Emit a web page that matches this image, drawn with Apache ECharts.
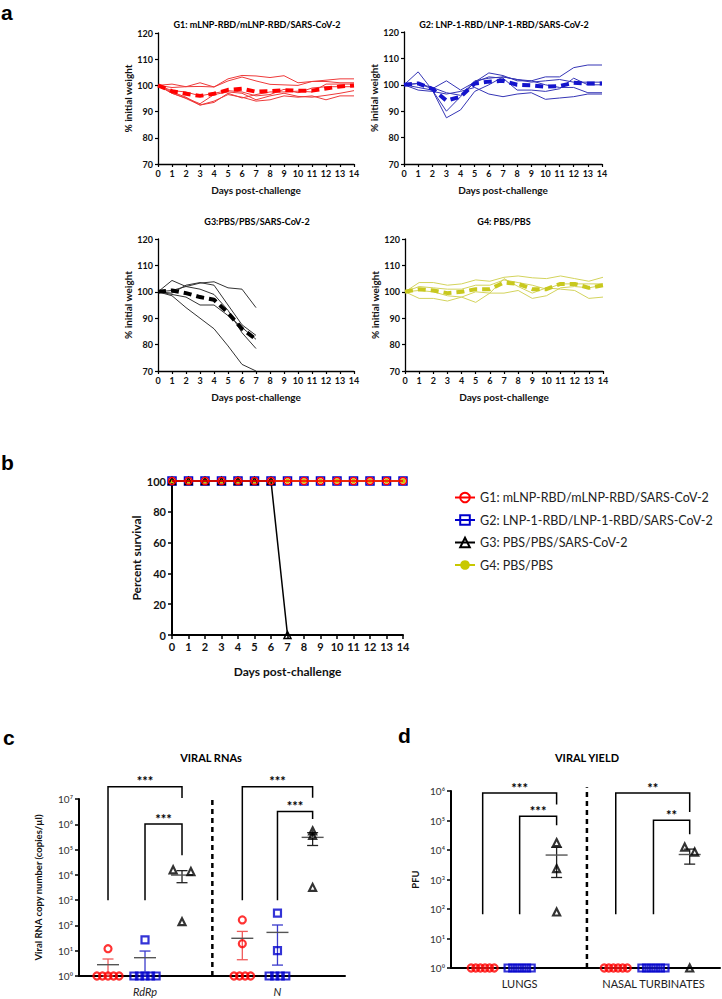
<!DOCTYPE html>
<html><head><meta charset="utf-8">
<script src="https://cdn.jsdelivr.net/npm/echarts@6/dist/echarts.min.js"></script>
<style>html,body{margin:0;padding:0;background:#fff}#c{width:722px;height:999px}</style>
</head><body><div id="c"></div>
<script>
// ---------------- DATA ----------------
const days = [0,1,2,3,4,5,6,7,8,9,10,11,12,13,14];
const g1Weights = [
  [100,99.2,99.5,101,99.4,102.5,103.8,103.6,103,103.7,101,101.5,102,102.5,102.5],
  [100,100.5,99.5,99.6,99.4,101.7,103.2,101.7,100.4,100.2,100,101.5,101.5,101,101],
  [100,97.5,95.5,92.5,93.5,97,95.2,96.5,97.5,97.5,97.8,97.5,100.5,100.5,100.5],
  [100,97,95,92.5,94,96.5,95.5,94,94.5,96,95.5,96,94.5,96,96],
  [100,97,95.2,93,96.5,97.5,97,94.5,96,97,95.8,95.5,96.2,97,98],
  [100,98,97.5,96,97,98,97.5,96,96.5,98.5,97.2,99,99.5,99.5,99.5]
];
const g1Mean = [100,97.8,96.8,96,96.8,98.3,98.7,97.6,97.8,98.2,98,98,98.8,99.6,100];
const g2Weights = [
  [100,104.9,98,90,95.5,101,103,102.5,98,98,97.5,98.5,102.5,100,100],
  [100,99,98,87.5,90.5,97.5,100,103,102,101.5,100,99,99,97,97],
  [100,100.5,98.5,101.5,98,101,104.5,103.5,101.5,101.5,103,103,106.5,107.5,107.5],
  [100,98,97.5,96.5,97.5,99,96.5,95.5,96.5,97,94.5,95,95.5,96.5,96.5],
  [100,100.5,99,97,96,101.5,102.5,103,102,101,101.5,102,101,101,101]
];
const g2Mean = [100,100.5,98.5,94,95.5,100.5,101.2,101.5,100,99.8,99.3,99.5,100.8,100.5,100.5];
const g3Weights = [
  [100,104.3,102,101,99,93,84.5,78.5],
  [100,100.5,102,103.3,103.8,101.5,101,94],
  [100,99.5,102.5,103.5,102.5,95,87.5,83.5],
  [100,99,98,95,95,91,86.5,82],
  [100,98.5,94,90,86,79.5,72.5,70]
];
const g3Mean = [100,100.5,99.5,98,97,92,86,82];
const g4Weights = [
  [100,103.5,103.5,102.5,103,104.5,104,105.5,106,105.3,105,106,105,104,105.5],
  [100,102,101.5,101,101,102.5,102.5,104.5,103.5,102.5,101,103,103,103,103],
  [100,100.5,100,98.5,98,100,99.5,105,102,99.5,101.5,101,100.5,97.5,98],
  [100,97.5,97.5,96.5,98,96,99.5,99.5,100.5,97.5,98.5,101.5,102,101.5,102.5]
];
const g4Mean = [100,101,100.5,99.5,100,101,101,103.5,103,101,101,103,103,101.5,102.5];
const weightTicks = [70,80,90,100,110,120];

const groupNames = ['G1: mLNP-RBD/mLNP-RBD/SARS-CoV-2','G2: LNP-1-RBD/LNP-1-RBD/SARS-CoV-2','G3: PBS/PBS/SARS-CoV-2','G4: PBS/PBS'];
const panelATitles = ['G1: mLNP-RBD/mLNP-RBD/SARS-CoV-2','G2: LNP-1-RBD/LNP-1-RBD/SARS-CoV-2','G3:PBS/PBS/SARS-CoV-2','G4: PBS/PBS'];

const survG1 = [100,100,100,100,100,100,100,100,100,100,100,100,100,100,100];
const survG2 = [100,100,100,100,100,100,100,100,100,100,100,100,100,100,100];
const survG3 = [100,100,100,100,100,100,100,0];
const survG4 = [100,100,100,100,100,100,100,100,100,100,100,100,100,100,100];

// panel c: viral RNA copies/µl
const rnaCategories = ['RdRp','N'];
const rdrpG1 = [12,1,1,1,1,1];
const rdrpG2 = [27,1,1,1,1,1];
const rdrpG3 = [15800,13500,141];
const nG1 = [165,19,1,1,1,1];
const nG2 = [305,10,1,1,1,1];
const nG3 = [550000,360000,3200];
const rnaMean = [2.8,5.3,9800,31,53,304000];
const rnaSemLow = [1,1,4900,4.4,2.7,145000];
const rnaSemHigh = [4.7,9.7,14700,58,104,465000];
const rnaStars = ['***','***','***','***'];

// panel d: PFU
const yieldCategories = ['LUNGS','NASAL TURBINATES'];
const lungsG1 = [1,1,1,1,1,1];
const lungsG2 = [1,1,1,1,1,1];
const lungsG3 = [17800,2340,79];
const nasalG1 = [1,1,1,1,1,1];
const nasalG2 = [1,1,1,1,1,1];
const nasalG3 = [12600,8500,1];
const yieldMean = [1,1,6740,1,1,7030];
const yieldSemLow = [1,1,1170,1,1,3320];
const yieldSemHigh = [1,1,12300,1,1,10740];
const yieldStars = ['***','***','**','**'];

// ---------------- LAYOUT ----------------
const FB = 'Lato, "Open Sans", sans-serif';
const cPos = [1,2,3,4.63,5.58,6.53];
const dPos = [1,2,3,4.6,5.62,6.6];
const cBrackets = [
  {from:0,to:2,base:3,top:7.48,drop:7.04},
  {from:1,to:2,base:3,top:6.01,drop:4.78},
  {from:3,to:5,base:3,top:7.48,drop:7.05},
  {from:4,to:5,base:3,top:6.51,drop:6.21}
];
const dBrackets = [
  {from:0,to:2,base:1.82,top:5.93,drop:5.54},
  {from:1,to:2,base:1.82,top:5.14,drop:4.84},
  {from:3,to:5,base:1.82,top:5.93,drop:5.29},
  {from:4,to:5,base:1.82,top:5.01,drop:4.53}
];
const groupColors = ['#ff0000','#0000cc','#000000'];
const barColors = ['#f05a5a','#3a3acc','#222222'];
const symbols = ['circle','rect','triangle'];

const sup = ['⁰','¹','²','³','⁴','⁵','⁶','⁷','⁸'];
const logFmt = v => '10' + sup[Math.round(Math.log10(v))];

function swarm(values, center, idSp, pairSp, thresh) {
  const items = values.map(v => ({v, l: Math.log10(v)})).sort((a,b)=>b.l-a.l);
  const clusters = [];
  items.forEach(it => {
    const c = clusters.find(c => Math.abs(c[0].l - it.l) < thresh);
    if (c) c.push(it); else clusters.push([it]);
  });
  const out = [];
  clusters.forEach(c => {
    const n = c.length;
    const ident = c.every(x => x.v === c[0].v);
    const s = ident ? idSp : pairSp;
    c.forEach((it,k) => out.push([center + (k-(n-1)/2)*s, it.v]));
  });
  return out;
}

const grids = [
  {left:158, top:33, width:196, height:131},
  {left:404, top:32, width:198, height:132},
  {left:158, top:239, width:196, height:132},
  {left:405, top:239, width:198, height:132},
  {left:172, top:481, width:231, height:154},
  {left:79, top:799, width:266, height:177},
  {left:451, top:791, width:269, height:177}
].map(g => Object.assign({outerBoundsMode:'none', containLabel:false}, g));

const xAxes = [], yAxes = [];
for (let i=0;i<4;i++) {
  xAxes.push({gridIndex:i, type:'value', min:0, max:14, interval:1,
    axisLine:{onZero:false, lineStyle:{color:'#000', width:1.3}},
    axisTick:{length:3, lineStyle:{color:'#000', width:1.2}},
    axisLabel:{margin:5, fontSize:9, fontWeight:'bold', fontFamily:FB, color:'#111'},
    splitLine:{show:false},
    name:'Days post-challenge', nameLocation:'middle', nameGap:21,
    nameTextStyle:{fontSize:10, fontWeight:'bold', fontFamily:FB, color:'#111'}});
  yAxes.push({gridIndex:i, type:'value', min:weightTicks[0], max:weightTicks[weightTicks.length-1], interval:10,
    axisLine:{show:true, onZero:false, lineStyle:{color:'#000', width:1.3}},
    axisTick:{show:true, length:3, lineStyle:{color:'#000', width:1.2}},
    axisLabel:{margin:5, fontSize:9, fontWeight:'bold', fontFamily:FB, color:'#111'},
    splitLine:{show:false},
    name:'% initial weight', nameLocation:'middle', nameGap:24,
    nameTextStyle:{fontSize:10, fontWeight:'bold', fontFamily:FB, color:'#111'}});
}
// panel b
xAxes.push({gridIndex:4, type:'value', min:0, max:14, interval:1,
  axisLine:{onZero:false, lineStyle:{color:'#000', width:2}},
  axisTick:{length:4, lineStyle:{color:'#000', width:1.5}},
  axisLabel:{margin:6, fontSize:11, fontWeight:'bold', fontFamily:FB, color:'#111'},
  splitLine:{show:false},
  name:'Days post-challenge', nameLocation:'middle', nameGap:30,
  nameTextStyle:{fontSize:12, fontWeight:'bold', fontFamily:FB, color:'#111'}});
yAxes.push({gridIndex:4, type:'value', min:0, max:100, interval:20,
  axisLine:{show:true, onZero:false, lineStyle:{color:'#000', width:2}},
  axisTick:{show:true, length:4, lineStyle:{color:'#000', width:1.5}},
  axisLabel:{margin:6, fontSize:11, fontWeight:'bold', fontFamily:FB, color:'#111'},
  splitLine:{show:false},
  name:'Percent survival', nameLocation:'middle', nameGap:27,
  nameTextStyle:{fontSize:12, fontWeight:'bold', fontFamily:FB, color:'#111'}});
// panel c & d
function catX(gi, min, max, vals, cats, italic) {
  return {gridIndex:gi, type:'value', min, max,
    axisLine:{onZero:false, lineStyle:{color:'#000', width:2}},
    axisTick:{show:false},
    axisLabel:{show:true, customValues:vals, margin:10, fontSize:11, fontStyle: italic?'italic':'normal', fontFamily:FB, color:'#222',
      formatter: v => { const k = vals.findIndex(x => Math.abs(x-v)<1e-6); return k>=0 ? cats[k] : ''; }},
    splitLine:{show:false}};
}
function logY(gi, max, name, gap) {
  return {gridIndex:gi, type:'log', logBase:10, min:1, max, interval:1,
    axisLine:{show:true, onZero:false, lineStyle:{color:'#000', width:2}},
    axisTick:{show:true, length:4, lineStyle:{color:'#000', width:1.5}},
    minorTick:{show:false},
    axisLabel:{margin:6, fontSize:10, fontFamily:FB, color:'#333', formatter:logFmt},
    splitLine:{show:false},
    name, nameLocation:'middle', nameGap:gap,
    nameTextStyle:{fontSize:9.5, fontWeight:'bold', fontFamily:FB, color:'#111'}};
}
xAxes.push(catX(5, 0.216, 7.405, [cPos[1], cPos[4]], rnaCategories, true));
yAxes.push(logY(5, 1e7, 'Viral RNA copy number (copies/µl)', 36));
xAxes.push(catX(6, 0.143, 7.42, [dPos[1], dPos[4]], yieldCategories, false));
yAxes.push(logY(6, 1e6, 'PFU', 31));

// ---------------- SERIES ----------------
const series = [];
function weightPanel(gi, lines, mean, thin, thick, tag) {
  lines.forEach((arr,k) => series.push({type:'line', name:tag+'-'+k, xAxisIndex:gi, yAxisIndex:gi,
    data: arr.map((v,i)=>[days[i], v]), showSymbol:false, symbol:'none', silent:true,
    lineStyle:{color:thin, width:1}, z:2}));
  series.push({type:'line', name:tag+'-mean', xAxisIndex:gi, yAxisIndex:gi,
    data: mean.map((v,i)=>[days[i], v]), showSymbol:false, symbol:'none', silent:true,
    lineStyle:{color:thick, width:4, type:[8,5]}, z:3});
}
weightPanel(0, g1Weights, g1Mean, '#ee3a3a', '#ff0000', 'a1');
weightPanel(1, g2Weights, g2Mean, '#3535b5', '#1414cc', 'a2');
weightPanel(2, g3Weights, g3Mean, '#333333', '#000000', 'a3');
weightPanel(3, g4Weights, g4Mean, '#d3d35c', '#c8c81e', 'a4');

// panel b survival
const survDefs = [
  {name:groupNames[1], data:survG2, color:'#0000cc', symbol:'rect', size:8, fill:'rgba(255,255,255,0)', bw:1.5, z:4},
  {name:groupNames[3], data:survG4, color:'#c8c800', symbol:'circle', size:5, fill:'#c8c800', bw:0, z:5},
  {name:groupNames[2], data:survG3, color:'#000000', symbol:'triangle', size:7, fill:'rgba(255,255,255,0)', bw:1.5, z:6},
  {name:groupNames[0], data:survG1, color:'#ff0000', symbol:'circle', size:7, fill:'rgba(255,255,255,0)', bw:1.5, z:7}
];
survDefs.forEach(s => series.push({type:'line', name:s.name, xAxisIndex:4, yAxisIndex:4,
  data: s.data.map((v,i)=>[days[i], v]), symbol:s.symbol, symbolSize:s.size, showSymbol:true,
  clip:false, silent:true,
  lineStyle:{color:s.color, width:1.5},
  itemStyle:{color:s.fill, borderColor:s.color, borderWidth:s.bw}, z:s.z}));

// panel c/d scatter
function dotPanel(gi, groups, pos, idSp, pairSp, thresh, size) {
  groups.forEach((vals,g) => {
    const c = g % 3;
    series.push({type:'scatter', name:'dots'+gi+'-'+g, xAxisIndex:gi, yAxisIndex:gi,
      data: swarm(vals, pos[g], idSp, pairSp, thresh), symbol:symbols[c],
      symbolSize: c===2 ? size : size, clip:false, silent:true,
      itemStyle:{color:'rgba(255,255,255,0)', borderColor:groupColors[c], borderWidth:2.2}, z:5});
  });
}
dotPanel(5, [rdrpG1, rdrpG2, rdrpG3, nG1, nG2, nG3], cPos, 0.15, 0.48, 0.1, 7);
dotPanel(6, [lungsG1, lungsG2, lungsG3, nasalG1, nasalG2, nasalG3], dPos, 0.125, 0.27, 0.2, 7);

function errPanel(gi, pos, mean, lo, hi) {
  series.push({type:'custom', name:'err'+gi, xAxisIndex:gi, yAxisIndex:gi, clip:false, silent:true, z:4,
    data: mean.map((m,i)=>[pos[i], m, lo[i], hi[i], i]),
    renderItem: (params, api) => {
      const x = api.value(0), gIdx = api.value(4) % 3;
      const pm = api.coord([x, api.value(1)]);
      const pl = api.coord([x, api.value(2)]);
      const ph = api.coord([x, api.value(3)]);
      const col = barColors[gIdx];
      const ch = [];
      if (Math.abs(pl[1]-ph[1]) > 0.5) {
        ch.push({type:'line', shape:{x1:pm[0], y1:pl[1], x2:pm[0], y2:ph[1]}, style:{stroke:col, lineWidth:1.3}});
        ch.push({type:'line', shape:{x1:pm[0]-5.5, y1:pl[1], x2:pm[0]+5.5, y2:pl[1]}, style:{stroke:col, lineWidth:1.3}});
        ch.push({type:'line', shape:{x1:pm[0]-5.5, y1:ph[1], x2:pm[0]+5.5, y2:ph[1]}, style:{stroke:col, lineWidth:1.3}});
      }
      ch.push({type:'line', shape:{x1:pm[0]-11, y1:pm[1], x2:pm[0]+11, y2:pm[1]}, style:{stroke:'#555', lineWidth:1.4}});
      return {type:'group', children:ch};
    }});
}
errPanel(5, cPos, rnaMean, rnaSemLow, rnaSemHigh);
errPanel(6, dPos, yieldMean, yieldSemLow, yieldSemHigh);

function bracketPanel(gi, pos, brs, stars, divX, divTop) {
  series.push({type:'custom', name:'br'+gi, xAxisIndex:gi, yAxisIndex:gi, clip:false, silent:true, z:3,
    data: brs.map(b => [pos[b.from], Math.pow(10,b.base)]),
    renderItem: (params, api) => {
      const b = brs[params.dataIndex];
      const pa = api.coord([pos[b.from], Math.pow(10,b.base)]);
      const pt = api.coord([pos[b.from], Math.pow(10,b.top)]);
      const pr = api.coord([pos[b.to], Math.pow(10,b.top)]);
      const pd = api.coord([pos[b.to], Math.pow(10,b.drop)]);
      return {type:'group', children:[
        {type:'polyline', shape:{points:[pa, pt, pr, pd]}, style:{stroke:'#000', lineWidth:1.5, fill:null}},
        {type:'text', style:{text:stars[params.dataIndex], x:(pt[0]+pr[0])/2, y:pt[1]+1, textAlign:'center', textVerticalAlign:'bottom',
          font:'bold 13px '+FB, fill:'#000'}}
      ]};
    }});
  series.push({type:'custom', name:'div'+gi, xAxisIndex:gi, yAxisIndex:gi, clip:false, silent:true, z:3,
    data: [[divX, 1]],
    renderItem: (params, api) => {
      const p0 = api.coord([divX, 1]);
      const p1 = api.coord([divX, Math.pow(10, divTop)]);
      return {type:'line', shape:{x1:p0[0], y1:p0[1], x2:p1[0], y2:p1[1]}, style:{stroke:'#000', lineWidth:2.5, lineDash:[5,4]}};
    }});
}
bracketPanel(5, cPos, cBrackets, rnaStars, 3.82, 7.11);
bracketPanel(6, dPos, dBrackets, yieldStars, 3.82, 6.13);

// ---------------- TEXT ----------------
const txt = (text, x, y, font, align) => ({type:'text', x, y, silent:true,
  style:{text, font, fill:'#000', textAlign: align||'center', textVerticalAlign:'middle'}});
const LF = 'bold 21px "Liberation Sans", Arial, sans-serif';
const graphic = [
  txt('a', 1, 12, LF, 'left'),
  txt('b', 1, 462, LF, 'left'),
  txt('c', 3, 737, LF, 'left'),
  txt('d', 398, 735, LF, 'left'),
  txt(panelATitles[0], 257, 24, 'bold 9px '+FB),
  txt(panelATitles[1], 504, 24, 'bold 9px '+FB),
  txt(panelATitles[2], 257, 221, 'bold 9px '+FB),
  txt(panelATitles[3], 504, 221, 'bold 9px '+FB),
  txt('VIRAL RNAs', 211, 757, 'bold 11px '+FB),
  txt('VIRAL YIELD', 587, 757, 'bold 11px '+FB)
];

const chart = echarts.init(document.getElementById('c'), null, {renderer:'svg', width:722, height:999});
chart.setOption({
  animation:false,
  backgroundColor:'#fff',
  grid: grids, xAxis: xAxes, yAxis: yAxes, series, graphic,
  legend: {data: groupNames, orient:'vertical', left:449, top:486, itemGap:9.5, itemWidth:20, itemHeight:12,
    selectedMode:false, textStyle:{fontSize:12.5, fontFamily:FB, color:'#222'}}
});
</script></body></html>
